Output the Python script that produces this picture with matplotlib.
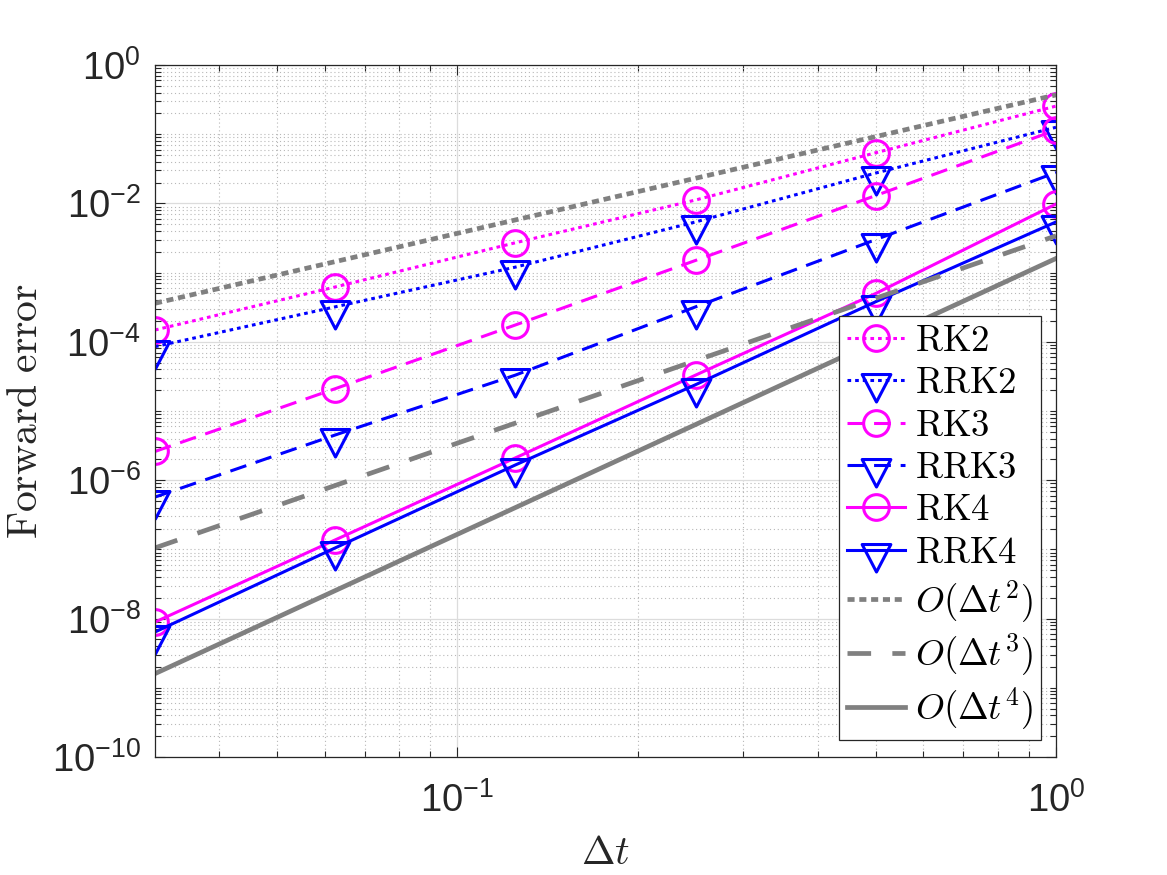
import numpy as np
import matplotlib
matplotlib.use("Agg")
import matplotlib.pyplot as plt
from matplotlib.path import Path
from matplotlib.ticker import FixedLocator, NullFormatter, LogFormatterSciNotation
from matplotlib.font_manager import FontProperties

plt.rcParams['font.family'] = ['Liberation Sans', 'DejaVu Sans']
plt.rcParams['mathtext.fontset'] = 'cm'
plt.rcParams['axes.unicode_minus'] = False

# step sizes and errors
dt = [1/32, 1/16, 1/8, 1/4, 1/2, 1]
rk2 = [1.48e-4, 6.2e-4, 2.7e-3, 1.12e-2, 5.4e-2, 0.255]
rrk2 = [8.5e-5, 3.2e-4, 1.2e-3, 5.4e-3, 2.75e-2, 0.126]
rk3 = [2.6e-6, 2.1e-5, 1.75e-4, 1.5e-3, 1.3e-2, 0.115]
rrk3 = [5.7e-7, 4.5e-6, 3.3e-5, 3.2e-4, 3.0e-3, 2.8e-2]
rk4 = [8.9e-9, 1.37e-7, 2.1e-6, 3.3e-5, 5.0e-4, 9.8e-3]
rrk4 = [6.4e-9, 1.05e-7, 1.66e-6, 2.4e-5, 3.8e-4, 5.4e-3]

# reference slopes, end points only
dt_ref = [1/32, 1]
o2 = [3.6e-4, 0.37]
o3 = [1.05e-7, 3.4e-3]
o4 = [1.6e-9, 1.6e-3]

magenta = '#ff00ff'
blue = '#0000ff'
gray = '#808080'

# matlab-like down triangle, anchored above its middle
tri = Path([(-0.6, 0.25), (0.6, 0.25), (0.0, -0.9), (-0.6, 0.25)],
           [Path.MOVETO, Path.LINETO, Path.LINETO, Path.CLOSEPOLY])

fig = plt.figure(figsize=(11.67, 8.75), dpi=100)
ax = fig.add_axes([0.1328, 0.1349, 0.7721, 0.7908])

lw = 2.2
circ = dict(marker='o', ms=18.5, mew=2.2, mfc='none')
tria = dict(marker=tri, ms=31, mew=2.2, mfc='none')
dot = (1.2, 1.3)
dash = (5.5, 3.2)

ax.plot(dt, rk2, color=magenta, lw=lw, dashes=dot, label=r'$\mathrm{RK2}$', **circ)
ax.plot(dt, rrk2, color=blue, lw=lw, dashes=dot, label=r'$\mathrm{RRK2}$', **tria)
ax.plot(dt, rk3, color=magenta, lw=lw, dashes=dash, label=r'$\mathrm{RK3}$', **circ)
ax.plot(dt, rrk3, color=blue, lw=lw, dashes=dash, label=r'$\mathrm{RRK3}$', **tria)
ax.plot(dt, rk4, color=magenta, lw=lw, ls='-', label=r'$\mathrm{RK4}$', **circ)
ax.plot(dt, rrk4, color=blue, lw=lw, ls='-', label=r'$\mathrm{RRK4}$', **tria)
ax.plot(dt_ref, o2, color=gray, lw=3.4, dashes=(1.5, 1.0), label=r'$O(\Delta t^2)$')
ax.plot(dt_ref, o3, color=gray, lw=3.4, dashes=(5, 4.5), label=r'$O(\Delta t^3)$')
ax.plot(dt_ref, o4, color=gray, lw=3.4, ls='-', label=r'$O(\Delta t^4)$')

ax.set_xscale('log')
ax.set_yscale('log')
ax.set_xlim(1/32, 1)
ax.set_ylim(1e-10, 1)

ymaj = [10.0**k for k in range(-10, 1, 2)]
ymin = [m * 10.0**k for k in range(-10, 0) for m in range(1, 10) if not (m == 1 and k % 2 == 0)]
xmaj = [0.1, 1.0]
xmin = [m * 0.01 for m in range(4, 10)] + [m * 0.1 for m in range(2, 10)]
ax.yaxis.set_major_locator(FixedLocator(ymaj))
ax.yaxis.set_minor_locator(FixedLocator(ymin))
ax.xaxis.set_major_locator(FixedLocator(xmaj))
ax.xaxis.set_minor_locator(FixedLocator(xmin))
ax.xaxis.set_major_formatter(LogFormatterSciNotation())
ax.yaxis.set_major_formatter(LogFormatterSciNotation())
ax.xaxis.set_minor_formatter(NullFormatter())
ax.yaxis.set_minor_formatter(NullFormatter())

ax.set_axisbelow(True)
ax.grid(which='major', color='#dcdcdc', ls='-', lw=0.9)
ax.grid(which='minor', color='#b8b8b8', ls=(0, (1, 2.5)), lw=0.8)

ax.tick_params(which='both', direction='in', top=True, right=True, colors='#262626',
               labelsize=27.5, width=0.8)
ax.tick_params(which='major', length=7)
ax.tick_params(which='minor', length=4)
ax.tick_params(axis='x', which='major', pad=18)
ax.tick_params(axis='y', which='major', pad=10)
for s in ax.spines.values():
    s.set_color('#262626')
    s.set_linewidth(0.9)

ax.set_xlabel(r'$\Delta t$', fontsize=29, color='#262626', labelpad=10)
ax.set_ylabel(r'$\mathrm{Forward\ error}$', fontsize=30, color='#262626', labelpad=4)

leg = ax.legend(loc='lower right', bbox_to_anchor=(0.983, 0.025), borderaxespad=0,
                prop=FontProperties(size=26.5), handlelength=1.58, handletextpad=0.27,
                labelspacing=0.2, borderpad=0.22, fancybox=False, framealpha=1,
                edgecolor='#262626')
leg.get_frame().set_linewidth(0.9)

fig.savefig('out.png', dpi=100)
